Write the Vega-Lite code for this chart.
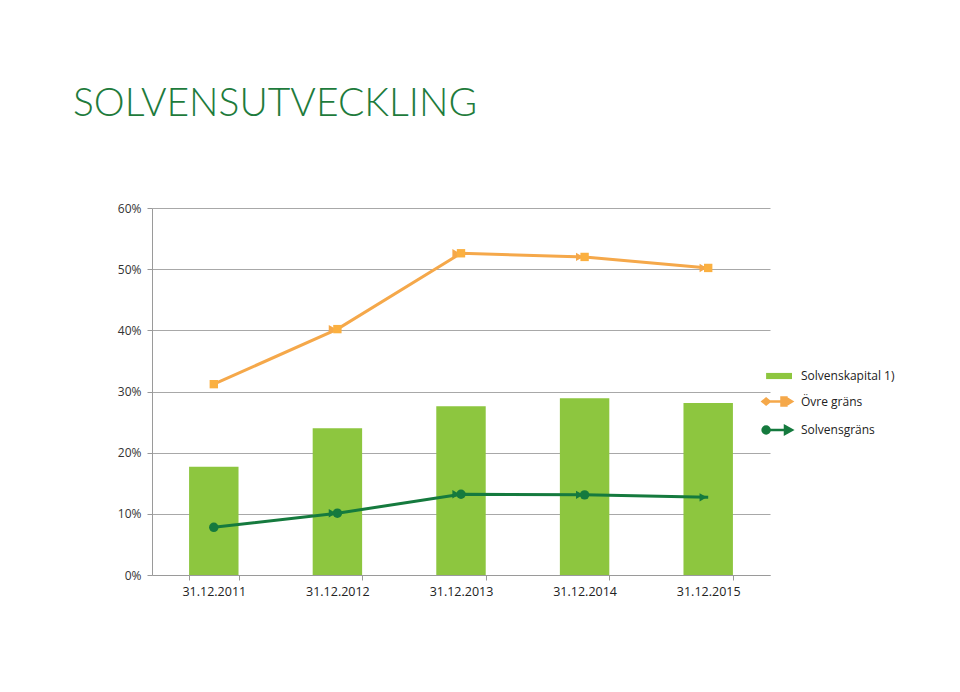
{
  "$schema": "https://vega.github.io/schema/vega-lite/v6.json",
  "width": 618,
  "height": 367,
  "autosize": {"type": "none"},
  "padding": {"left": 152, "top": 208, "right": 190, "bottom": 117},
  "background": "white",
  "title": {
    "text": "SOLVENSUTVECKLING",
    "anchor": "start",
    "frame": "group",
    "dx": -79,
    "offset": 78,
    "fontSize": 39,
    "font": "Lato",
    "fontWeight": 300,
    "color": "#1E7B3C"
  },
  "config": {"view": {"stroke": null}, "font": "Open Sans"},
  "data": {
    "values": [
      {"date": "31.12.2011", "serie": "Solvenskapital 1)", "value": 0.177},
      {"date": "31.12.2012", "serie": "Solvenskapital 1)", "value": 0.240},
      {"date": "31.12.2013", "serie": "Solvenskapital 1)", "value": 0.276},
      {"date": "31.12.2014", "serie": "Solvenskapital 1)", "value": 0.289},
      {"date": "31.12.2015", "serie": "Solvenskapital 1)", "value": 0.281},
      {"date": "31.12.2011", "serie": "Övre gräns", "value": 0.312},
      {"date": "31.12.2012", "serie": "Övre gräns", "value": 0.402},
      {"date": "31.12.2013", "serie": "Övre gräns", "value": 0.526},
      {"date": "31.12.2014", "serie": "Övre gräns", "value": 0.520},
      {"date": "31.12.2015", "serie": "Övre gräns", "value": 0.502},
      {"date": "31.12.2011", "serie": "Solvensgräns", "value": 0.078},
      {"date": "31.12.2012", "serie": "Solvensgräns", "value": 0.101},
      {"date": "31.12.2013", "serie": "Solvensgräns", "value": 0.132},
      {"date": "31.12.2014", "serie": "Solvensgräns", "value": 0.131},
      {"date": "31.12.2015", "serie": "Solvensgräns", "value": 0.127}
    ]
  },
  "encoding": {
    "x": {
      "field": "date",
      "type": "nominal",
      "sort": null,
      "scale": {"paddingInner": 0.6, "paddingOuter": 0.3},
      "axis": {
        "title": null,
        "labelAngle": 0,
        "tickBand": "extent",
        "domainColor": "#9a9a9a",
        "tickColor": "#9a9a9a",
        "tickSize": 5,
        "labelFontSize": 12.5,
        "labelColor": "#222222",
        "labelPadding": 5,
        "grid": false
      }
    },
    "y": {
      "field": "value",
      "type": "quantitative",
      "scale": {"domain": [0, 0.6]},
      "axis": {
        "title": null,
        "format": ".0%",
        "values": [0, 0.1, 0.2, 0.3, 0.4, 0.5, 0.6],
        "grid": true,
        "gridColor": "#a8a8a8",
        "domainColor": "#9a9a9a",
        "tickColor": "#9a9a9a",
        "tickSize": 5,
        "labelFontSize": 12,
        "labelColor": "#333333",
        "labelPadding": 6
      }
    },
    "color": {
      "field": "serie",
      "type": "nominal",
      "scale": {
        "domain": ["Solvenskapital 1)", "Övre gräns", "Solvensgräns"],
        "range": ["#8DC63F", "#F5A84A", "#157A3E"]
      },
      "legend": {
        "title": null,
        "orient": "none",
        "legendX": 620,
        "legendY": 162,
        "labelFontSize": 12,
        "labelColor": "#222222",
        "symbolSize": 784,
        "rowPadding": 10.5,
        "labelOffset": 17,
        "encode": {
          "symbols": {
            "update": {
              "shape": {"signal": "datum.value == 'Solvenskapital 1)' ? 'M-0.85,-0.22L1,-0.22L1,0.22L-0.85,0.22Z' : (datum.value == 'Övre gräns' ? 'M-1,0L0.6,0M-1.1,0L-0.85,-0.2L-0.6,0L-0.85,0.2ZM0.25,-0.28L0.6,-0.28L0.6,-0.25L1,0L0.6,0.25L0.6,0.28L0.25,0.28Z' : 'M-0.8,0L0.6,0M-1.1,0A0.25,0.25 0 1,1 -0.6,0A0.25,0.25 0 1,1 -1.1,0ZM0.5,-0.28L1,0L0.5,0.28Z')"},
              "fill": {"signal": "datum.value == 'Solvenskapital 1)' ? '#8DC63F' : (datum.value == 'Övre gräns' ? '#F5A84A' : '#157A3E')"},
              "stroke": {"signal": "datum.value == 'Solvenskapital 1)' ? '#8DC63F' : (datum.value == 'Övre gräns' ? '#F5A84A' : '#157A3E')"},
              "strokeWidth": {"signal": "datum.value == 'Solvenskapital 1)' ? 0 : 2.5"},
              "opacity": {"value": 1}
            }
          }
        }
      }
    }
  },
  "layer": [
    {
      "transform": [{"filter": "datum.serie == 'Solvenskapital 1)'"}],
      "mark": {"type": "bar"}
    },
    {
      "transform": [{"filter": "datum.serie != 'Solvenskapital 1)'"}],
      "mark": {"type": "line", "strokeWidth": 3}
    },
    {
      "transform": [{"filter": "datum.serie != 'Solvenskapital 1)' && datum.date != '31.12.2011'"}],
      "mark": {"type": "point", "shape": "triangle-right", "filled": true, "size": 70, "opacity": 1, "xOffset": -5}
    },
    {
      "transform": [{"filter": "datum.serie == 'Övre gräns'"}],
      "mark": {"type": "point", "shape": "square", "filled": true, "size": 70, "opacity": 1},
      "encoding": {"color": {"value": "#FBB040"}}
    },
    {
      "transform": [{"filter": "datum.serie == 'Solvensgräns' && datum.date != '31.12.2015'"}],
      "mark": {"type": "point", "shape": "circle", "filled": true, "size": 90, "opacity": 1},
      "encoding": {"color": {"value": "#157A3E"}}
    }
  ]
}
